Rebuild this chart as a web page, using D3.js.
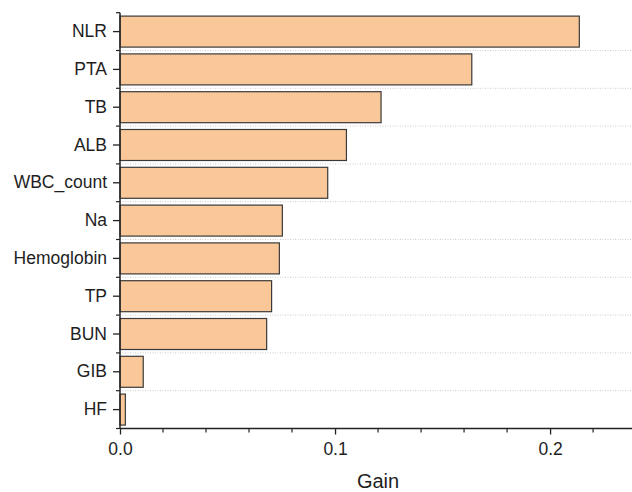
<!DOCTYPE html>
<html><head><meta charset="utf-8">
<script src="https://cdn.jsdelivr.net/npm/d3@7"></script>
<style>body{margin:0;background:#fff}svg text{font-family:"Liberation Sans",Arial,sans-serif;fill:#1e1e1e}</style>
</head><body><svg id="c" width="632" height="492"></svg>
<script>
const categories = ["NLR","PTA","TB","ALB","WBC_count","Na","Hemoglobin","TP","BUN","GIB","HF"];
const gains = [0.2136,0.1636,0.1214,0.1053,0.0966,0.0755,0.0741,0.0705,0.0682,0.0108,0.0025];
const xTickValues = [0.0,0.1,0.2];
const xTickLabels = ["0.0","0.1","0.2"];

const svg = d3.select("#c");
const m = {l:120, t:12.7, r:0, b:63.5};
const W = 632, H = 492;
const x = d3.scaleLinear().domain([0,0.2381]).range([m.l, W - m.r]);
const y = d3.scaleBand().domain(categories).range([m.t, H - m.b]).paddingInner(0.18).paddingOuter(0.09);
const step = y.step();

// dotted gridlines at band boundaries
const bounds = d3.range(1, categories.length).map(i => m.t + i*step);
svg.append("g").selectAll("line").data(bounds).join("line")
  .attr("x1", m.l).attr("x2", W).attr("y1", d=>d).attr("y2", d=>d)
  .attr("stroke", "#ccc").attr("stroke-width", 1).attr("stroke-dasharray", "1,1.5");

// bars
svg.append("g").selectAll("rect").data(categories).join("rect")
  .attr("x", x(0)).attr("y", d => y(d))
  .attr("width", (d,i) => x(gains[i]) - x(0))
  .attr("height", y.bandwidth())
  .attr("fill", "#fac898").attr("stroke", "#3a3a3a").attr("stroke-width", 1.2);

// x axis
const xAxis = d3.axisBottom(x).tickValues(xTickValues).tickFormat((d,i)=>xTickLabels[i]).tickSize(6).tickPadding(8);
const gx = svg.append("g").attr("transform", `translate(0,${H - m.b})`).call(xAxis);
gx.selectAll(".tick text").style("font-size", "17.5px");
gx.select(".domain").attr("d", `M${m.l},0H${W}`).attr("stroke","#222").attr("stroke-width",1.5);
gx.selectAll(".tick line").attr("stroke","#222").attr("stroke-width",1.3);
const minor = d3.range(0.02, 0.238, 0.02).filter(v => Math.abs(v*10 - Math.round(v*10)) > 1e-6);
gx.append("g").selectAll("line").data(minor).join("line")
  .attr("x1", d=>x(d)).attr("x2", d=>x(d)).attr("y1",0).attr("y2",4)
  .attr("stroke","#222").attr("stroke-width",1.2);

// y axis
const yAxis = d3.axisLeft(y).tickSize(7).tickPadding(6);
const gy = svg.append("g").attr("transform", `translate(${m.l},0)`).call(yAxis);
gy.selectAll(".tick text").style("font-size", "17.5px");
gy.select(".domain").attr("d", `M0,${m.t}V${H - m.b}`).attr("stroke","#222").attr("stroke-width",1.5);
gy.selectAll(".tick line").attr("stroke","#222").attr("stroke-width",1.3);
gy.append("g").selectAll("line").data(d3.range(0, categories.length+1).map(i=>m.t+i*step)).join("line")
  .attr("x1", -4).attr("x2", 0).attr("y1", d=>d).attr("y2", d=>d)
  .attr("stroke","#222").attr("stroke-width",1.2);

svg.append("text").attr("x", 378).attr("y", 488)
  .attr("text-anchor","middle").style("font-size", "20px").text("Gain");
</script></body></html>
